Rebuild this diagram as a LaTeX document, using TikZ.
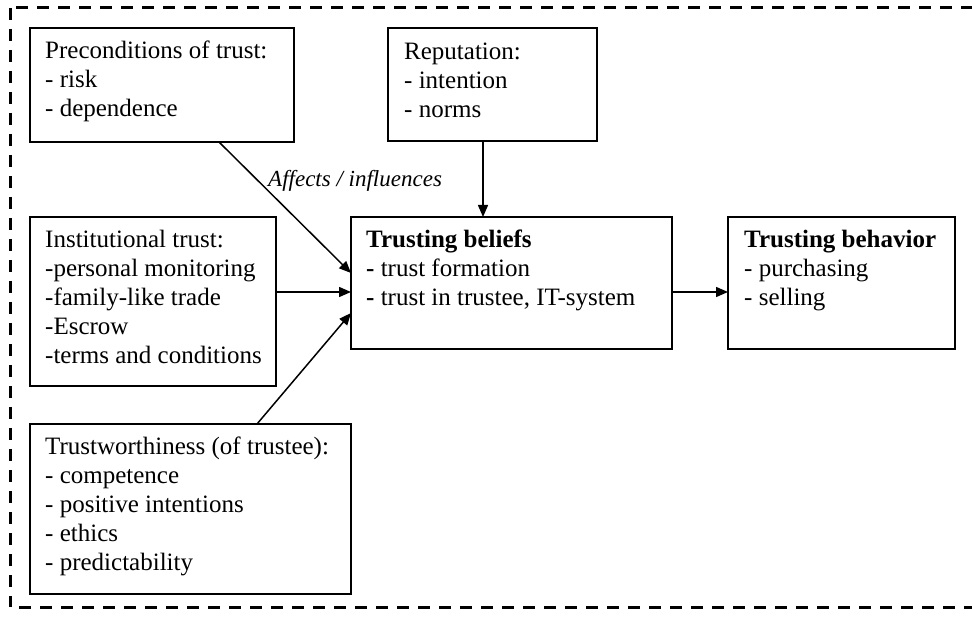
\documentclass[tikz,border=0pt]{standalone}
\usepackage{fontspec}
\setmainfont{Liberation Serif}
\usetikzlibrary{arrows.meta}

\begin{document}
\begin{tikzpicture}[x=1pt,y=-1pt,
  box/.style={draw=black, line width=1.5pt, rectangle, anchor=north west,
    inner sep=0pt, outer sep=0pt},
  % \strut is 0.7\baselineskip (about 20pt) high, so the first baseline sits about 20pt below the node top
  txt/.style={anchor=north west, align=left, inner sep=0pt,
    font=\fontsize{25pt}{29pt}\selectfont},
  arr/.style={line width=1.5pt, -{Triangle[length=12pt,width=10pt]}},
  frame/.style={line width=3pt, dash pattern=on 12pt off 9pt}
]
\useasboundingbox (0,0) rectangle (972,617);

% dashed enclosure (open on the right side)
\draw[frame] (16,8) -- (972,8);
\draw[frame] (10,8) -- (10,607);
\draw[frame] (19,607) -- (972,607);

% boxes
\node[box, minimum width=264pt, minimum height=114pt] (pre)  at (30,28)  {};
\node[box, minimum width=209pt, minimum height=113pt] (rep)  at (388,28) {};
\node[box, minimum width=321pt, minimum height=132pt] (bel)  at (351,217) {};
\node[box, minimum width=227pt, minimum height=132pt] (beh)  at (728,217) {};
\node[box, minimum width=246pt, minimum height=169pt] (inst) at (30,217) {};
\node[box, minimum width=321pt, minimum height=170pt] (tw)   at (30,424) {};

% box texts
\node[txt] (pre-t) at (45,38.3) {\strut Preconditions of trust:\\- risk\\- dependence};
\node[txt] (rep-t) at (404,38.8) {\strut Reputation:\\- intention\\- norms};
\node[txt] (bel-t) at (366,227) {\strut\textbf{Trusting beliefs}\\\textbf{-} trust formation\\\textbf{-} trust in trustee, IT-system};
\node[txt] (beh-t) at (744,227) {\strut\textbf{Trusting behavior}\\- purchasing\\- selling};
\node[txt] (inst-t) at (45,227) {\strut Institutional trust:\\-personal monitoring\\-family-like trade\\-Escrow\\-terms and conditions};
\node[txt] (tw-t) at (45,434) {\strut Trustworthiness (of trustee):\\- competence\\- positive intentions\\- ethics\\- predictability};

% connector label
\node[anchor=base west, inner sep=0pt, font=\fontsize{23pt}{26pt}\selectfont\itshape] (lab) at (268,187) {Affects / influences};

% connectors
\draw[arr] ([xshift=189pt]pre.south west) -- ([yshift=10pt]bel.west);
\draw[arr] ([xshift=95pt]rep.south west) -- ([xshift=95pt]rep.south west |- bel.north);
\draw[arr] ([yshift=9.5pt]inst.east) -- ([yshift=9.5pt]inst.east -| bel.west);
\draw[arr] ([xshift=227pt]tw.north west) -- ([yshift=-30pt]bel.west);
\draw[arr] ([yshift=-9pt]bel.east) -- ([yshift=-9pt]beh.west);
\end{tikzpicture}
\end{document}
